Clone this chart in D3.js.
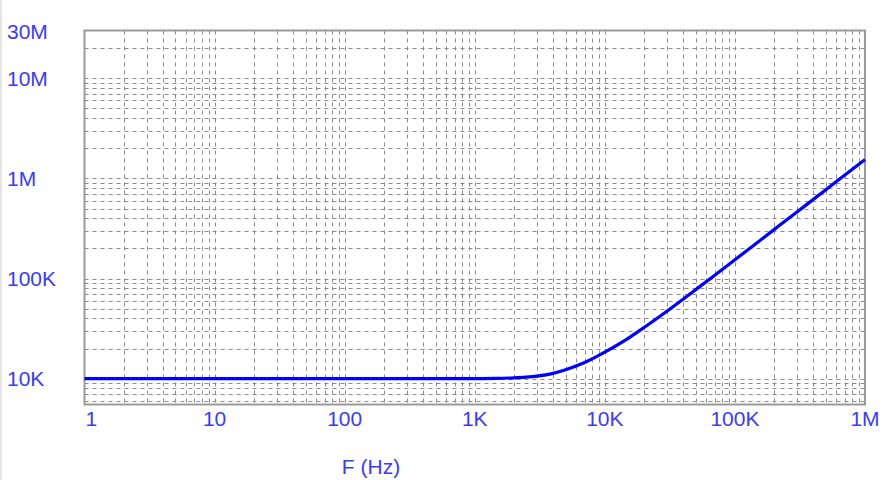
<!DOCTYPE html>
<html>
<head>
<meta charset="utf-8">
<script src="https://cdn.jsdelivr.net/npm/d3@7"></script>
<style>
  html, body { margin: 0; padding: 0; background: #fff; }
  svg { display: block; }
  text { font-family: "Liberation Sans", Arial, sans-serif; }
</style>
</head>
<body>
<svg id="chart" width="885" height="480"></svg>
<script>
// ---- data ----
const freqHz = [1, 10, 100, 1000, 1500, 2000, 3000, 4000, 5000, 7000, 10000, 15000, 20000, 30000, 50000, 70000, 100000, 200000, 300000, 500000, 700000, 1000000];
const magnitude = [10000, 10000, 10000, 10000, 10050, 10200, 10600, 11300, 12300, 14500, 18400, 25100, 32400, 47200, 77500, 108000, 154000, 308000, 462000, 770000, 1080000, 1540000];

const xTickValues = [1, 10, 100, 1000, 10000, 100000, 1000000];
const xTickLabels = ["1", "10", "100", "1K", "10K", "100K", "1M"];
const yTickValues = [10000, 100000, 1000000, 10000000, 30000000];
const yTickLabels = ["10K", "100K", "1M", "10M", "30M"];
const xDomain = [1, 1000000];
const yDomain = [5520, 30000000];
const xTitle = "F (Hz)";

// ---- layout ----
const svg = d3.select("#chart");
const plot = { left: 84.5, right: 865, top: 30.5, bottom: 404.5 };
const labelColor = "#3a3aff";
const fontSize = 21;

const x = d3.scaleLog().domain(xDomain).range([plot.left, plot.right]);
const y = d3.scaleLog().domain(yDomain).range([plot.bottom, plot.top]);

// faint page edge
svg.append("rect").attr("x", 0).attr("y", 0).attr("width", 2).attr("height", 480).attr("fill", "#e6e6e6");

// grid
const grid = svg.append("g").attr("stroke", "#8a8a8a").attr("stroke-width", 1).attr("stroke-dasharray", "4,4").attr("fill", "none");
x.ticks().filter(v => v > xDomain[0] && v < xDomain[1]).forEach(v => {
  const px = Math.round(x(v)) + 0.5;
  grid.append("line").attr("x1", px).attr("x2", px).attr("y1", plot.top).attr("y2", plot.bottom);
});
y.ticks().filter(v => v > yDomain[0] && v < yDomain[1]).forEach(v => {
  const py = Math.round(y(v)) + 0.5;
  grid.append("line").attr("x1", plot.left).attr("x2", plot.right).attr("y1", py).attr("y2", py);
});

// frame
svg.append("rect")
  .attr("x", plot.left).attr("y", plot.top)
  .attr("width", plot.right - plot.left).attr("height", plot.bottom - plot.top)
  .attr("fill", "none").attr("stroke", "#9a9a9a").attr("stroke-width", 2);

// curve
const pts = freqHz.map((f, i) => [f, magnitude[i]]);
svg.append("path")
  .datum(pts)
  .attr("fill", "none")
  .attr("stroke", "#0000ff")
  .attr("stroke-width", 3.2)
  .attr("d", d3.line().x(d => x(d[0])).y(d => y(d[1])).curve(d3.curveMonotoneX));

// y labels
svg.append("g").selectAll("text").data(yTickValues).join("text")
  .attr("x", 7)
  .attr("y", d => y(d))
  .attr("dy", (d, i) => i === yTickValues.length - 1 ? "0.42em" : "0.35em")
  .attr("fill", labelColor)
  .attr("font-size", fontSize)
  .text((d, i) => yTickLabels[i]);

// x labels
svg.append("g").selectAll("text").data(xTickValues).join("text")
  .attr("x", (d, i) => i === 0 ? x(d) + 1 : x(d))
  .attr("y", 426)
  .attr("text-anchor", (d, i) => i === 0 ? "start" : "middle")
  .attr("fill", labelColor)
  .attr("font-size", fontSize)
  .text((d, i) => xTickLabels[i]);

// x title
svg.append("text")
  .attr("x", 371).attr("y", 474)
  .attr("text-anchor", "middle")
  .attr("fill", labelColor)
  .attr("font-size", fontSize)
  .text(xTitle);
</script>
</body>
</html>
